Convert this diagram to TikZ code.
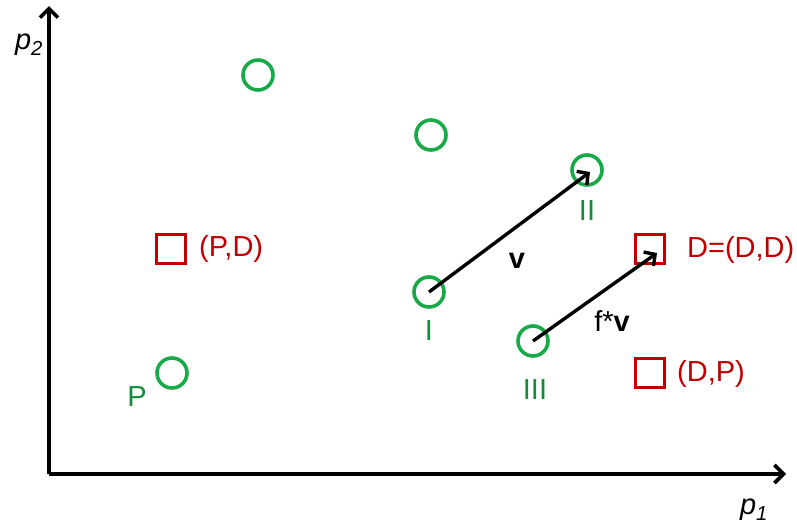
\documentclass[tikz,border=0pt]{standalone}
\usepackage{fontspec}
\setmainfont{Liberation Sans}
\usetikzlibrary{arrows.meta}
\definecolor{cgreen}{RGB}{24,170,72}
\definecolor{tgreen}{RGB}{20,140,60}
\definecolor{cred}{RGB}{192,0,0}
\begin{document}
\begin{tikzpicture}[x=1pt,y=-1pt,
  every node/.style={font=\fontsize{29}{32}\selectfont},
  pt/.style={circle,draw=cgreen,line width=3.6pt,minimum size=30pt,inner sep=0pt},
  sq/.style={rectangle,draw=cred,line width=3.6pt,minimum size=29pt,inner sep=0pt},
  glab/.style={text=tgreen,inner sep=0pt},
  rlab/.style={text=cred,inner sep=0pt,anchor=west},
  axis/.style={line width=3.6pt,-{Straight Barb[length=9pt,width=18pt,line width=3.6pt]}},
  vec/.style={line width=3.4pt,-{Straight Barb[length=8pt,width=17pt,line width=3.4pt]}}]
\useasboundingbox (0,0) rectangle (797,525);
% axes
\coordinate (O) at (49,474);
\coordinate (ytop) at (49,6);
\coordinate (xend) at (786,474);
\draw[axis] (O) -- (ytop);
\draw[axis] (O) -- (xend);
\node[inner sep=0pt] (p2) at (29,45) {\textit{p}\textsubscript{\textit{2}}};
\node[inner sep=0pt] (p1) at (754,510) {\textit{p}\textsubscript{\textit{1}}};
% circles
\node[pt] (c1) at (258,75) {};
\node[pt] (c2) at (431,135) {};
\node[pt] (cII) at (587,170) {};
\node[pt] (cI) at (429,292) {};
\node[pt] (cIII) at (533,341) {};
\node[pt] (cP) at (172,373) {};
% squares
\node[sq] (sPD) at (171,249) {};
\node[sq] (sDD) at (650,249) {};
\node[sq] (sDP) at (650,373) {};
% labels
\node[rlab] (lPD) at (199,249) {(P,D)};
\node[rlab] (lDD) at (687,250) {D=(D,D)};
\node[rlab] (lDP) at (677,374) {(D,P)};
\node[glab] (lP) at (137,397) {P};
\node[glab] (lI) at (429,331) {I};
\node[glab] (lII) at (587,211) {II};
\node[glab] (lIII) at (535,390) {III};
\node[inner sep=0pt] (lv) at (517,261) {\textbf{v}};
\node[inner sep=0pt] (lfv) at (612,321) {f*\textbf{v}};
% vectors
\draw[vec] (cI.center) -- ([xshift=3pt,yshift=-2pt]cII.center);
\draw[vec] (cIII.center) -- ([xshift=7pt,yshift=-4pt]sDD.center);
\end{tikzpicture}
\end{document}
